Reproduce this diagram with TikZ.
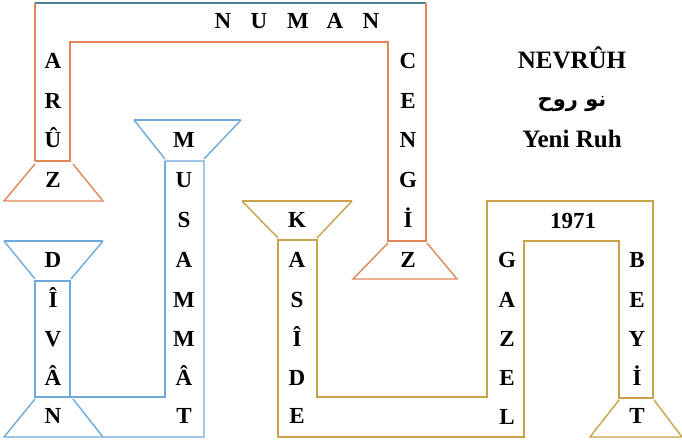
\documentclass[tikz,border=0pt]{standalone}
\usepackage{fontspec}
\setmainfont{Liberation Serif}
\newfontfamily\arabicfont[Script=Arabic]{DejaVu Sans}
\TeXXeTstate=1
\definecolor{orng}{HTML}{E0875A}
\definecolor{blu}{HTML}{6FA8DC}
\definecolor{gld}{HTML}{C9A24B}
\definecolor{teal}{HTML}{4F8196}
\begin{document}
\begin{tikzpicture}[x=1pt,y=-1pt,
  lt/.style={anchor=base,inner sep=0pt,font=\fontsize{23}{23}\selectfont\bfseries},
  ttl/.style={anchor=base,inner sep=0pt,font=\fontsize{25}{25}\selectfont\bfseries},
  ln/.style={line width=1.4pt,line join=miter}]
\useasboundingbox (0,0) rectangle (682,442);
% ---------- orange shape ----------
\draw[ln,orng] (35,161) -- (35,3);
\draw[ln,teal] (35,3) -- (426,3);
\draw[ln,orng] (426,3) -- (426,241) -- (388,241) -- (388,42) -- (70,42) -- (70,161) -- (35,161);
\draw[ln,orng] (35,164) -- (4,201) -- (103,201) -- (73,164);
\draw[ln,orng] (388,243) -- (353,279) -- (457,279) -- (427,243);
% ---------- blue shape ----------
\draw[ln,blu] (134,120) -- (241,120);
\draw[ln,blu] (134,120) -- (165,159);
\draw[ln,blu] (241,120) -- (204,159);
\draw[ln,blu] (165,161) -- (204,161) -- (204,437) -- (4,437) -- (35,399);
\draw[ln,blu] (103,437) -- (73,399);
\draw[ln,blu] (165,161) -- (165,397) -- (70,397);
\draw[ln,blu] (35,281) rectangle (70,397);
\draw[ln,blu] (4,241) -- (103,241);
\draw[ln,blu] (4,241) -- (35,279);
\draw[ln,blu] (103,241) -- (71,279);
% ---------- gold shape ----------
\draw[ln,gld] (242,201) -- (352,201);
\draw[ln,gld] (242,201) -- (278,238);
\draw[ln,gld] (352,201) -- (317,238);
\draw[ln,gld] (278,240) -- (317,240) -- (317,397) -- (487,397) -- (487,201) -- (653,201) -- (653,398) -- (619,398) -- (619,241) -- (524,241) -- (524,437) -- (278,437) -- cycle;
\draw[ln,gld] (619,400) -- (590,437) -- (682,437) -- (654,400);
% ---------- texts ----------
\foreach \t/\x/\n in {N/223/n1,U/259/n2,M/298/n3,A/335/n4,N/371/n5}
  \node[lt] (\n) at (\x,28) {\t};
\foreach \t/\y/\n in {A/68/a1,R/108/a2,Û/147/a3,Z/187/a4}
  \node[lt] (\n) at (53,\y) {\t};
\foreach \t/\y/\n in {C/68/c1,E/108/c2,N/147/c3,G/187/c4,İ/227/c5,Z/267/c6}
  \node[lt] (\n) at (408,\y) {\t};
\foreach \t/\y/\n in {M/147/m1,U/187/m2,S/227/m3,A/267/m4,M/307/m5,M/346/m6,Â/385/m7,T/423/m8}
  \node[lt] (\n) at (184,\y) {\t};
\foreach \t/\y/\n in {D/267/d1,Î/307/d2,V/346/d3,Â/385/d4,N/423/d5}
  \node[lt] (\n) at (53,\y) {\t};
\foreach \t/\y/\n in {K/227/k1,A/267/k2,S/307/k3,Î/346/k4,D/385/k5,E/423/k6}
  \node[lt] (\n) at (297,\y) {\t};
\foreach \t/\y/\n in {G/267/g1,A/307/g2,Z/346/g3,E/385/g4,L/424/g5}
  \node[lt] (\n) at (507,\y) {\t};
\foreach \t/\y/\n in {B/267/b1,E/307/b2,Y/346/b3,İ/385/b4,T/423/b5}
  \node[lt] (\n) at (637,\y) {\t};
\node[lt] (yr) at (573,228) {1971};
\node[ttl] (title) at (572,68) {NEVRÛH};
\node[anchor=base,inner sep=0pt,font=\fontsize{21}{21}\selectfont\bfseries] (arab) at (572,106) {\arabicfont\beginR نو روح\endR};
\node[ttl] (yeni) at (572,147) {Yeni Ruh};
\end{tikzpicture}
\end{document}
